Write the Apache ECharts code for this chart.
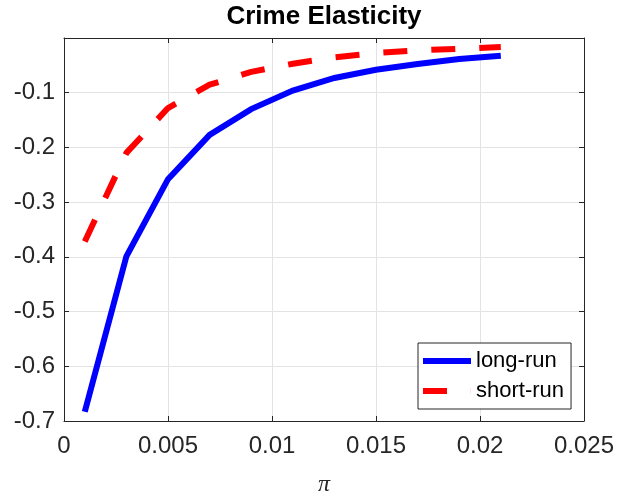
<!DOCTYPE html>
<html>
<head>
<meta charset="utf-8">
<script src="https://cdn.jsdelivr.net/npm/echarts@6/dist/echarts.min.js"></script>
<style>html,body{margin:0;padding:0;background:#fff;}#c{width:619px;height:495px;}</style>
</head>
<body>
<div id="c"></div>
<script>
var titleText = 'Crime Elasticity';
var xName = 'π';
var piValues = [0.001, 0.003, 0.005, 0.007, 0.009, 0.011, 0.013, 0.015, 0.017, 0.019, 0.021];
var longRun = [-0.683, -0.399, -0.258, -0.177, -0.130, -0.096, -0.073, -0.058, -0.0475, -0.0384, -0.0324];
var shortRun = [-0.372, -0.210, -0.128, -0.0854, -0.062, -0.047, -0.0355, -0.0275, -0.0226, -0.0196, -0.0165];
var seriesNames = ['long-run', 'short-run'];

function pairs(xs, ys) { return xs.map(function (x, i) { return [x, ys[i]]; }); }

var textColor = '#262626';
var chart = echarts.init(document.getElementById('c'), null, {renderer: 'canvas'});
var axisFont = {fontFamily: 'Liberation Sans', fontSize: 24, color: textColor};
chart.setOption({
  animation: false,
  backgroundColor: '#ffffff',
  graphic: [{
    type: 'text', x: 324, y: 17,
    style: {text: titleText, font: 'bold 26px "Liberation Sans"', fill: '#000', textAlign: 'center', textVerticalAlign: 'middle'}
  }],
  grid: {left: 64, right: 35, top: 38, bottom: 74, containLabel: false, outerBoundsMode: 'none'},
  legend: {
    orient: 'vertical', left: 418, top: 343,
    itemWidth: 48, itemHeight: 6, itemGap: 8,
    padding: [7, 7, 7, 5],
    backgroundColor: '#ffffff', borderColor: textColor, borderWidth: 1,
    textStyle: {fontFamily: 'Liberation Sans', fontSize: 22, color: '#000'},
    data: [
      {name: seriesNames[0], icon: 'path://M0 0H48V6H0Z', itemStyle: {color: '#0000ff'}},
      {name: seriesNames[1], icon: 'path://M0 0H24V6H0Z M47.9 0H48V6H47.9Z', itemStyle: {color: '#ff0000'}}
    ]
  },
  xAxis: [{
    type: 'value', min: 0, max: 0.025, interval: 0.005,
    name: xName, nameLocation: 'middle', nameGap: 52,
    nameTextStyle: {fontFamily: 'Liberation Serif', fontStyle: 'italic', fontSize: 24, color: textColor},
    axisLine: {show: true, onZero: false, lineStyle: {color: textColor, width: 1}},
    axisTick: {show: true, inside: true, length: 5, lineStyle: {color: textColor}},
    axisLabel: Object.assign({margin: 13}, axisFont),
    splitLine: {show: true, lineStyle: {color: '#e3e3e3', width: 1}}
  }, {
    type: 'value', position: 'top', min: 0, max: 0.025, interval: 0.005,
    axisLine: {show: true, onZero: false, lineStyle: {color: textColor, width: 1}},
    axisTick: {show: true, inside: true, length: 5, lineStyle: {color: textColor}},
    axisLabel: {show: false}, splitLine: {show: false}
  }],
  yAxis: [{
    type: 'value', min: -0.7, max: 0, interval: 0.1,
    axisLine: {show: true, onZero: false, lineStyle: {color: textColor, width: 1}},
    axisTick: {show: true, inside: true, length: 5, lineStyle: {color: textColor}},
    axisLabel: Object.assign({margin: 9, formatter: function (v) { return Math.abs(v) < 1e-9 ? '' : String(+v.toFixed(2)); }}, axisFont),
    splitLine: {show: true, lineStyle: {color: '#e3e3e3', width: 1}}
  }, {
    type: 'value', position: 'right', min: -0.7, max: 0, interval: 0.1,
    axisLine: {show: true, onZero: false, lineStyle: {color: textColor, width: 1}},
    axisTick: {show: true, inside: true, length: 5, lineStyle: {color: textColor}},
    axisLabel: {show: false}, splitLine: {show: false}
  }],
  series: [{
    name: seriesNames[0], type: 'line', xAxisIndex: 0, yAxisIndex: 0,
    data: pairs(piValues, longRun), symbol: 'none', smooth: false,
    itemStyle: {color: '#0000ff'},
    lineStyle: {color: '#0000ff', width: 6, cap: 'butt', join: 'miter'}
  }, {
    name: seriesNames[1], type: 'line', xAxisIndex: 0, yAxisIndex: 0,
    data: pairs(piValues, shortRun), symbol: 'none', smooth: false,
    itemStyle: {color: '#ff0000'},
    lineStyle: {color: '#ff0000', width: 6, type: [24, 24], cap: 'butt'}
  }]
});
</script>
</body>
</html>
